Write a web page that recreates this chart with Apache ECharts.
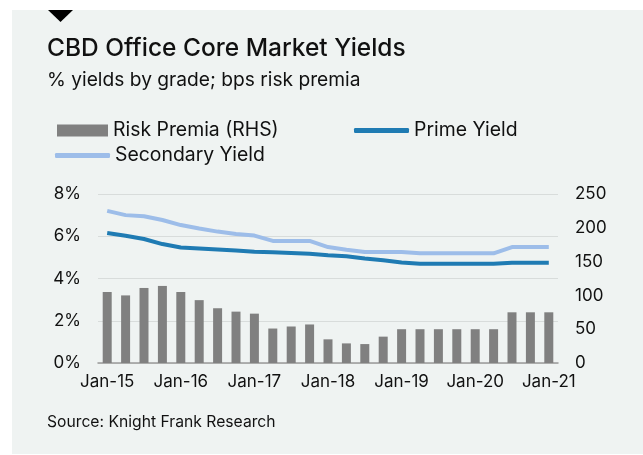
<!DOCTYPE html>
<html><head><meta charset="utf-8">
<script src="https://cdn.jsdelivr.net/npm/echarts@6/dist/echarts.min.js"></script>
<style>html,body{margin:0;padding:0;background:#fff}#c{width:643px;height:455px}</style>
</head><body><div id="c"></div>
<script>
const categories = ["Jan-15","Apr-15","Jul-15","Oct-15","Jan-16","Apr-16","Jul-16","Oct-16","Jan-17","Apr-17","Jul-17","Oct-17","Jan-18","Apr-18","Jul-18","Oct-18","Jan-19","Apr-19","Jul-19","Oct-19","Jan-20","Apr-20","Jul-20","Oct-20","Jan-21"];
const riskPremia = [105,100,111,114,105,93,81,76,73,51,54,57,35,29,28,39,50,50,50,50,50,50,75,75,75];
const primeYield = [6.15,6.02,5.87,5.63,5.47,5.42,5.37,5.32,5.27,5.24,5.21,5.17,5.10,5.05,4.95,4.86,4.76,4.70,4.70,4.70,4.70,4.70,4.75,4.75,4.75];
const secondaryYield = [7.20,7.00,6.95,6.77,6.53,6.37,6.22,6.11,6.03,5.78,5.78,5.78,5.49,5.36,5.25,5.25,5.25,5.19,5.19,5.19,5.19,5.19,5.49,5.49,5.49];
const leftTicks = [0,8,2];
const rightTicks = [0,250,50];

const FONT = 'Inter, "Liberation Sans", sans-serif';
const chart = echarts.init(document.getElementById('c'), null, {renderer:'canvas'});
chart.setOption({
  animation:false,
  backgroundColor:'#ffffff',
  textStyle:{fontFamily:FONT},
  graphic:[
    {type:'rect', z:-10, shape:{x:12,y:10,width:631,height:444}, style:{fill:'#eff3f2'}},
    {type:'polygon', shape:{points:[[48,10],[73,10],[60.5,22]]}, style:{fill:'#000'}},
    {type:'text', left:47, top:36, style:{text:'CBD Office Core Market Yields', font:'500 24.5px '+FONT, fill:'#111'}},
    {type:'text', left:47, top:71, style:{text:'% yields by grade; bps risk premia', font:'19.2px '+FONT, fill:'#111'}},
    {type:'text', left:47, top:414, style:{text:'Source: Knight Frank Research', font:'15.7px '+FONT, fill:'#111'}}
  ],
  legend:[
    {left:57, top:121, padding:0, itemWidth:51, itemHeight:12, icon:'rect', data:['Risk Premia (RHS)'], textStyle:{fontSize:19.4, color:'#111', fontFamily:FONT}},
    {left:354, top:121, padding:0, itemWidth:55, itemHeight:5, icon:'roundRect', data:['Prime Yield'], textStyle:{fontSize:19.4, color:'#111', fontFamily:FONT}},
    {left:55, top:146, padding:0, itemWidth:55, itemHeight:5, icon:'roundRect', data:['Secondary Yield'], textStyle:{fontSize:19.4, color:'#111', fontFamily:FONT}}
  ],
  grid:{left:98, right:85, top:194, bottom:92},
  xAxis:{type:'category', data:categories, boundaryGap:true,
    axisLine:{lineStyle:{color:'#9a9a9a', width:1.5}}, axisTick:{show:false},
    axisLabel:{interval:3, fontSize:17, color:'#111', margin:10, fontFamily:FONT}},
  yAxis:[
    {type:'value', min:leftTicks[0], max:leftTicks[1], interval:leftTicks[2],
     axisLabel:{formatter:'{value}%', fontSize:17, color:'#111', margin:17, fontFamily:FONT},
     splitLine:{lineStyle:{color:'#d8dcdb', width:1}}, axisLine:{show:false}, axisTick:{show:false}},
    {type:'value', min:rightTicks[0], max:rightTicks[1], interval:rightTicks[2],
     axisLabel:{fontSize:17, color:'#111', margin:17, fontFamily:FONT},
     splitLine:{show:false}, axisLine:{show:false}, axisTick:{show:false}}
  ],
  series:[
    {name:'Risk Premia (RHS)', type:'bar', yAxisIndex:1, data:riskPremia, barWidth:9, itemStyle:{color:'#808080'}},
    {name:'Prime Yield', type:'line', yAxisIndex:0, data:primeYield, symbol:'none', lineStyle:{color:'#1f7bb3', width:4}, itemStyle:{color:'#1f7bb3'}},
    {name:'Secondary Yield', type:'line', yAxisIndex:0, data:secondaryYield, symbol:'none', lineStyle:{color:'#9dbde9', width:4}, itemStyle:{color:'#9dbde9'}}
  ]
});
</script></body></html>
